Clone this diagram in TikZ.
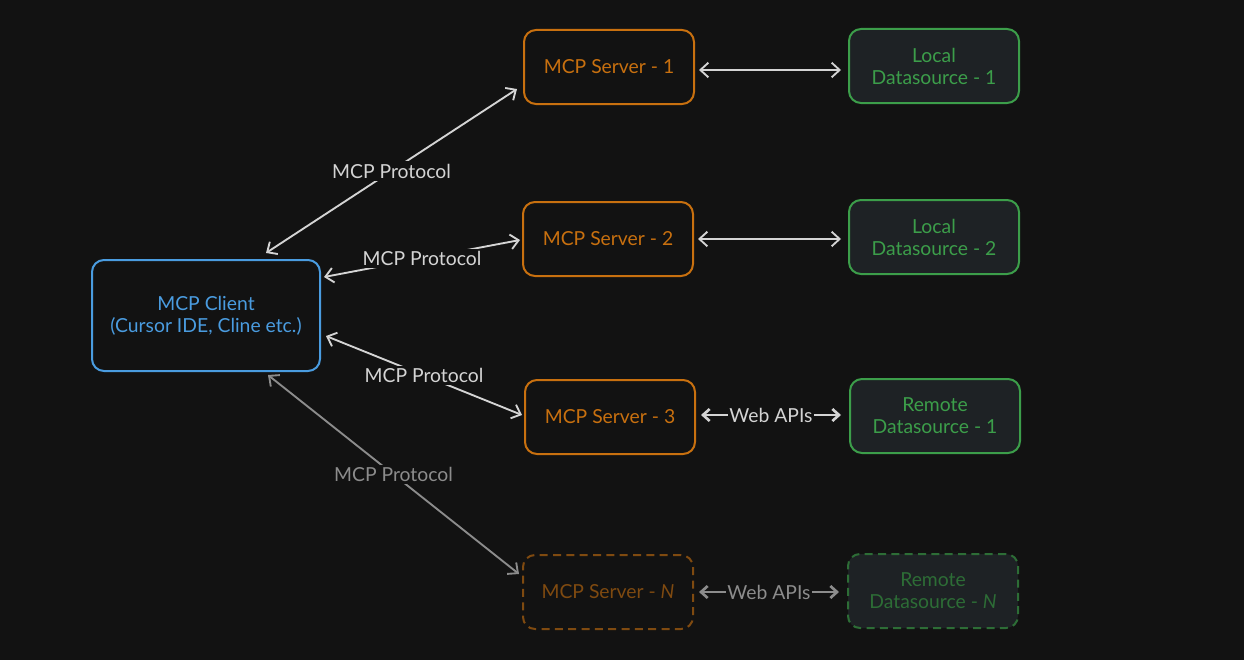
\documentclass[tikz,border=0pt]{standalone}
\usepackage{fontspec}
\setmainfont{Lato}
\usetikzlibrary{arrows.meta,calc}
\definecolor{bg}{HTML}{121212}
\definecolor{dsfill}{HTML}{1E2225}
\definecolor{mcporange}{HTML}{C8700F}
\definecolor{mcpblue}{HTML}{4A9CE0}
\definecolor{mcpgreen}{HTML}{3C9E4A}
\definecolor{arrowgrey}{HTML}{D4D4D4}
\definecolor{dimgrey}{HTML}{8C8C8C}
\tikzset{
  box/.style={rectangle, rounded corners=9pt, line width=1.5pt, minimum width=127.5pt, minimum height=55.5pt, align=center, font=\fontsize{14.5}{16.5}\selectfont},
  clientbox/.style={box, draw=mcpblue, text=mcpblue, fill=bg, minimum width=171pt, minimum height=83.25pt},
  serverbox/.style={box, draw=mcporange, text=mcporange, fill=bg},
  dsbox/.style={box, draw=mcpgreen, text=mcpgreen, fill=dsfill},
  dimserver/.style={box, draw=mcporange!60!bg, text=mcporange!60!bg, fill=bg, dash pattern=on 6pt off 4pt},
  dimds/.style={box, draw=mcpgreen!65!bg, text=mcpgreen!65!bg, fill=dsfill, dash pattern=on 6pt off 4pt},
  conn/.style={draw=arrowgrey, line width=1.4pt, {Straight Barb[length=6pt,width=11pt]}-{Straight Barb[length=6pt,width=11pt]}},
  dimconn/.style={conn, draw=dimgrey},
  webconn/.style={conn, line width=2pt, {Straight Barb[length=5pt,width=9pt]}-{Straight Barb[length=5pt,width=9pt]}},
  dimwebconn/.style={webconn, draw=dimgrey},
  lbl/.style={fill=bg, inner sep=2pt, text=arrowgrey, font=\fontsize{14.5}{16.5}\selectfont},
  dimlbl/.style={lbl, text=dimgrey},
}
\begin{document}
\begin{tikzpicture}[x=0.75pt, y=-0.75pt]
\fill[bg] (0,0) rectangle (1244,660);
\useasboundingbox (0,0) rectangle (1244,660);

\node[clientbox] (client) at (206,315.5) {MCP Client\\(Cursor IDE, Cline etc.)};
\node[serverbox] (s1) at (609,67) {MCP Server - 1};
\node[serverbox] (s2) at (608,239) {MCP Server - 2};
\node[serverbox] (s3) at (610,417) {MCP Server - 3};
\node[dimserver] (sn) at (608,592) {MCP Server - \textit{N}};
\node[dsbox] (l1) at (934,66) {Local\\Datasource - 1};
\node[dsbox] (l2) at (934,237) {Local\\Datasource - 2};
\node[dsbox] (r1) at (935,416) {Remote\\Datasource - 1};
\node[dimds] (rn) at (933,591) {Remote\\Datasource - \textit{N}};

\draw[conn] ($(client.north)+(60,-6)$) -- node[lbl]{MCP Protocol} ($(s1.west)+(-6,22)$);
\draw[conn] ($(client.east)+(3,-38.5)$) -- node[lbl]{MCP Protocol} ($(s2.west)+(-2,1)$);
\draw[conn] ($(client.east)+(5,20.5)$) -- node[lbl]{MCP Protocol} ($(s3.west)+(-2,-2)$);
\draw[dimconn] ($(client.south)+(62,3)$) -- node[dimlbl]{MCP Protocol} ($(sn.west)+(-3,-18)$);

\draw[conn] ($(s1.east)+(4,3)$) -- ($(l1.west)+(-7,4)$);
\draw[conn] ($(s2.east)+(4,0)$) -- ($(l2.west)+(-7,2)$);
\draw[webconn] ($(s3.east)+(5,-2)$) -- node[lbl, inner sep=1pt]{Web APIs} ($(r1.west)+(-8,-1)$);
\draw[dimwebconn] ($(sn.east)+(5,0)$) -- node[dimlbl, inner sep=1pt]{Web APIs} ($(rn.west)+(-8,1)$);
\end{tikzpicture}
\end{document}
